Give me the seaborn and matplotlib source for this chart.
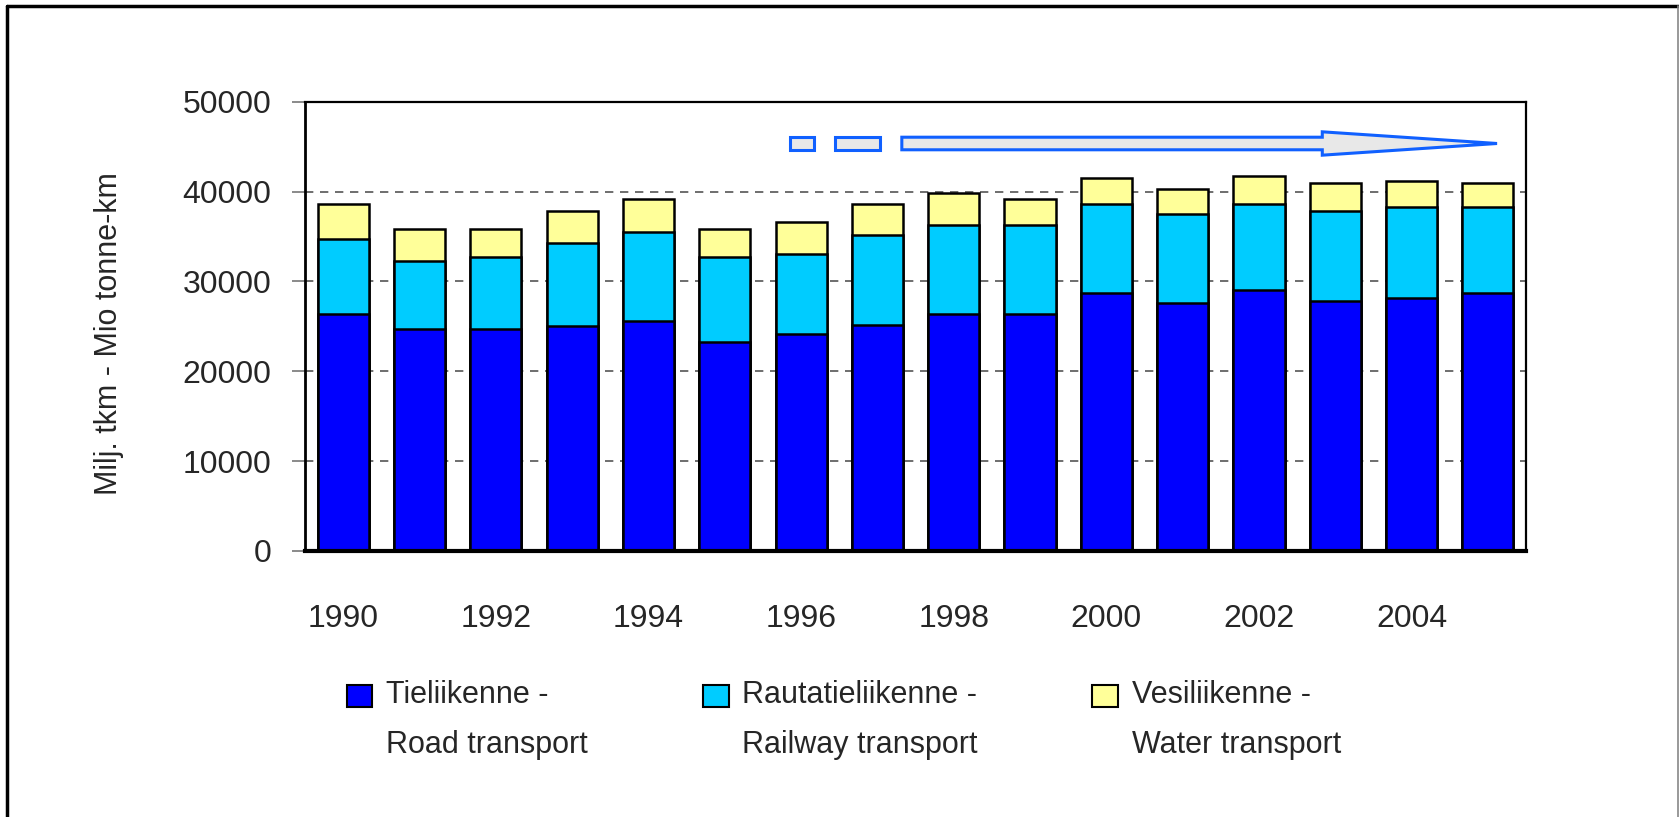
import numpy as np
import pandas as pd
import matplotlib
matplotlib.use('Agg')
import matplotlib.pyplot as plt
import matplotlib.patches as mpatches
from matplotlib.legend_handler import HandlerPatch
from matplotlib.lines import Line2D
import seaborn as sns

# values (Mio tonne-km)
years = list(range(1990, 2006))
road = [26400, 24700, 24700, 25000, 25600, 23300, 24100, 25200,
        26400, 26400, 28700, 27600, 29000, 27800, 28100, 28700]
rail = [8300, 7600, 8000, 9300, 9900, 9400, 8900, 10000,
        9900, 9900, 9900, 9900, 9600, 10000, 10200, 9600]
water = [3900, 3500, 3100, 3500, 3700, 3100, 3600, 3400,
         3500, 2900, 2900, 2800, 3100, 3100, 2900, 2600]
labels = ['Tieliikenne -\nRoad transport',
          'Rautatieliikenne -\nRailway transport',
          'Vesiliikenne -\nWater transport']
colors = ['#0000FF', '#00CCFF', '#FFFF99']
ytick_vals = [0, 10000, 20000, 30000, 40000, 50000]

sns.set_style('white')
plt.rcParams['font.family'] = ['Liberation Sans', 'DejaVu Sans']

df = pd.DataFrame({'year': [str(y) for y in years], 'road': road, 'rail': rail, 'water': water})
df['rail_top'] = df['road'] + df['rail']
df['total'] = df['rail_top'] + df['water']

fig = plt.figure(figsize=(16.79, 8.17), dpi=100)
ax = fig.add_axes([0.1817, 0.3256, 0.7272, 0.5499])

bar_kw = dict(width=0.67, edgecolor='black', linewidth=1.8, saturation=1, ax=ax)
# stacked look: draw cumulative heights from the top down
sns.barplot(data=df, x='year', y='total', color=colors[2], **bar_kw)
sns.barplot(data=df, x='year', y='rail_top', color=colors[1], **bar_kw)
sns.barplot(data=df, x='year', y='road', color=colors[0], **bar_kw)

ax.set_xlim(-0.5, len(years) - 0.5)
ax.set_ylim(0, 50000)
ax.set_yticks(ytick_vals)
ax.set_yticklabels([str(v) for v in ytick_vals], fontsize=23)
ax.set_xticks(range(0, len(years), 2))
ax.set_xticklabels([str(y) for y in years[::2]], fontsize=23)
ax.tick_params(axis='x', length=0, pad=38)
ax.tick_params(axis='y', length=9.5, width=1.2, color='#777777', pad=15, left=True)
ax.set_xlabel('')
ax.set_ylabel('Milj. tkm - Mio tonne-km', fontsize=22)
ax.yaxis.set_label_coords(-0.148, 0.485)

ax.yaxis.grid(True, linestyle=(0, (5, 4)), color='#555555', linewidth=1.2)
ax.set_axisbelow(True)
for side, lw in [('left', 2.0), ('bottom', 3.0), ('top', 1.6), ('right', 1.6)]:
    ax.spines[side].set_visible(True)
    ax.spines[side].set_color('black')
    ax.spines[side].set_linewidth(lw)

# trend arrow
arrow_face = '#E8E8E8'
arrow_edge = '#1060FF'
ay = 45350
ax.add_patch(mpatches.Rectangle((5.86, ay - 700), 0.31, 1400, facecolor=arrow_face,
                                edgecolor=arrow_edge, linewidth=2.2, zorder=5))
ax.add_patch(mpatches.Rectangle((6.45, ay - 700), 0.59, 1400, facecolor=arrow_face,
                                edgecolor=arrow_edge, linewidth=2.2, zorder=5))
ax.add_patch(mpatches.FancyArrow(7.32, ay, 15.12 - 7.32, 0, width=1400, head_width=2600,
                                 head_length=2.29, length_includes_head=True,
                                 facecolor=arrow_face, edgecolor=arrow_edge,
                                 linewidth=2.2, zorder=5))


def _legend_box(legend, orig_handle, xdescent, ydescent, width, height, fontsize):
    # sit the swatch a little below the top of the first text line
    return mpatches.Rectangle((-xdescent, -ydescent - 0.14 * fontsize), width, height)


handles = [mpatches.Patch(facecolor=c, edgecolor='black', linewidth=1.5) for c in colors]
leg = fig.legend(handles, labels, ncol=3, loc='upper left', bbox_to_anchor=(0.190, 0.201),
                 frameon=False, fontsize=22, handlelength=0.85, handleheight=0.75,
                 handletextpad=0.45, columnspacing=3.75, labelspacing=0.5,
                 handler_map={mpatches.Patch: HandlerPatch(patch_func=_legend_box)})
for t in leg.get_texts():
    t.set_linespacing(1.85)
for col in leg._legend_handle_box.get_children():
    for item in col.get_children():
        item.align = 'top'

# outer frame
fig.add_artist(Line2D([7 / 1679, 7 / 1679], [0, 1 - 6 / 817], color='black', linewidth=2.5,
                      transform=fig.transFigure))
fig.add_artist(Line2D([7 / 1679, 1], [1 - 6 / 817, 1 - 6 / 817], color='black', linewidth=2.5,
                      transform=fig.transFigure))
fig.add_artist(Line2D([1678 / 1679, 1678 / 1679], [0, 1 - 6 / 817], color='#888888', linewidth=1.2,
                      transform=fig.transFigure))

fig.savefig('out.png', dpi=100)
plt.close(fig)
